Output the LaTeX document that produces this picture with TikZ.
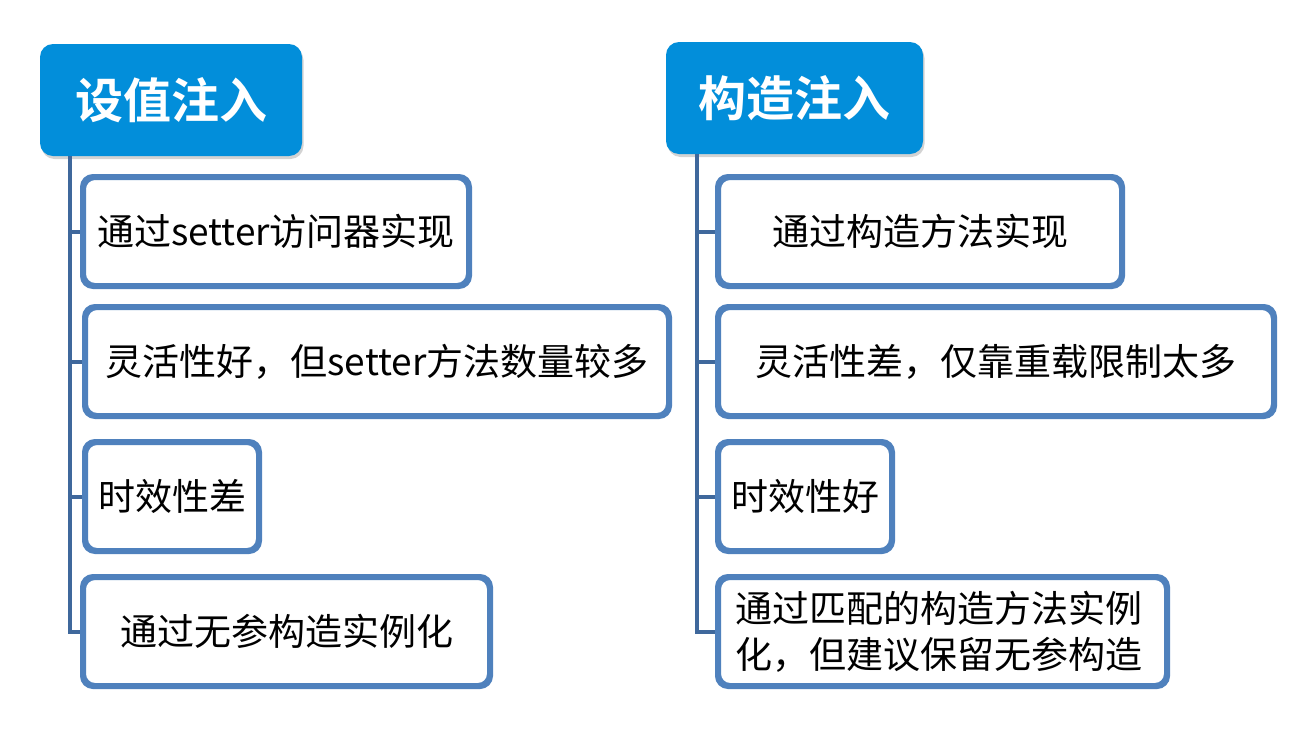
\documentclass[tikz,border=0pt]{standalone}
\usepackage{fontspec}
\setmainfont{Noto Sans CJK SC}[BoldFont={Noto Sans CJK SC Bold}]
\usetikzlibrary{shadows}
\definecolor{headblue}{RGB}{2,142,218}
\definecolor{boxblue}{RGB}{79,129,189}
\definecolor{spineblue}{RGB}{63,104,156}
\tikzset{
  headbox/.style={fill=headblue, rounded corners=13pt, text=white, font=\bfseries\fontsize{48}{52}\selectfont,
    drop shadow={opacity=0.35, shadow xshift=1.5pt, shadow yshift=-3pt}},
  itembox/.style={draw=boxblue, line width=4pt, rounded corners=11pt, fill=white,
    font=\fontsize{37}{46}\selectfont, inner sep=0pt, align=center},
  spine/.style={draw=spineblue, line width=4pt}
}
\begin{document}
\begin{tikzpicture}[x=1pt,y=-1pt]
\useasboundingbox (0,0) rectangle (1289,737);
% headers
\node[headbox, minimum width=262pt, minimum height=112pt] (hL) at (171,100) {设值注入};
\node[headbox, minimum width=257pt, minimum height=112pt] (hR) at (794.5,98) {构造注入};
% left items
\node[itembox, minimum width=384pt, minimum height=107pt] (L1) at (276,231.5) {通过setter访问器实现};
\node[itembox, minimum width=582pt, minimum height=107pt] (L2) at (377,361.5) {灵活性好，但setter方法数量较多};
\node[itembox, minimum width=172pt, minimum height=107pt] (L3) at (172,496.5) {时效性差};
\node[itembox, minimum width=405pt, minimum height=107pt] (L4) at (286.5,631.5) {通过无参构造实例化};
% right items
\node[itembox, minimum width=402pt, minimum height=107pt] (R1) at (920,231.5) {通过构造方法实现};
\node[itembox, minimum width=554pt, minimum height=107pt] (R2) at (996,361.5) {灵活性差，仅靠重载限制太多};
\node[itembox, minimum width=172pt, minimum height=107pt] (R3) at (805,496.5) {时效性好};
\node[itembox, minimum width=447pt, minimum height=107pt, text width=414pt, align=left] (R4) at (942.5,631.5) {通过匹配的构造方法实例\\化，但建议保留无参构造};
% spines
\coordinate (sL) at (70,156);
\coordinate (sR) at (697,154);
\draw[spine, line join=miter] (sL) |- (L4.west);
\foreach \n in {L1,L2,L3} \draw[spine] (sL |- \n.west) -- (\n.west);
\draw[spine, line join=miter] (sR) |- (R4.west);
\foreach \n in {R1,R2,R3} \draw[spine] (sR |- \n.west) -- (\n.west);
% redraw box outlines over connector ends
\foreach \n in {L1,L2,L3,L4,R1,R2,R3,R4} \draw[draw=boxblue, line width=4pt, rounded corners=11pt] (\n.south west) rectangle (\n.north east);
\end{tikzpicture}
\end{document}
